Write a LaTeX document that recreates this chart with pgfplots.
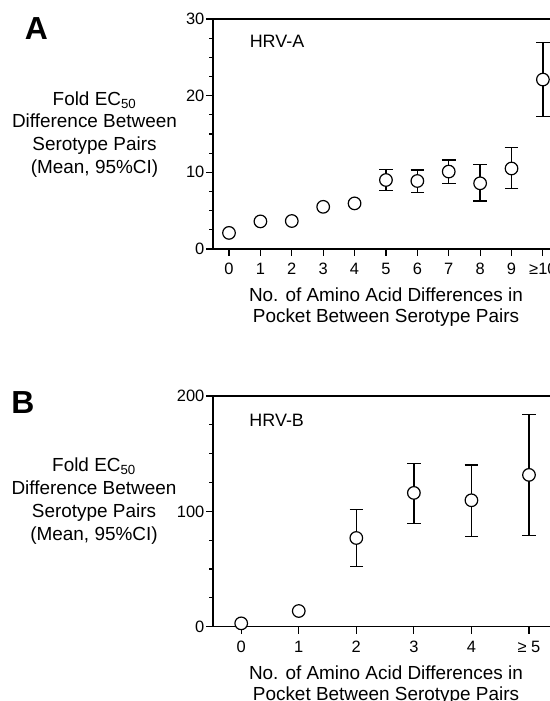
\documentclass[border=0pt]{standalone}
\usepackage{fontspec}
\setmainfont{Liberation Sans}
\usepackage{pgfplots}
\usepackage{pgfplotstable}
\pgfplotsset{compat=1.18}

% panel A: mean fold EC50 by number of differences
\pgfplotstableread{
x y
0 2.1
1 3.6
2 3.65
3 5.5
4 5.95
5 9.0
6 8.87
7 10.1
8 8.57
9 10.5
10 22.1
}\dataA

\pgfplotstableread{
x y
0 2.9
1 13.6
2 76.9
3 116
4 109.6
5 131.6
}\dataB

\pgfplotsset{
  panel/.style={
    scale only axis,
    width=339bp,
    anchor=south west,
    clip=false,
    axis line style={line width=1.2bp},
    tick align=outside,
    xtick pos=bottom,
    ytick pos=left,
    major tick length=7bp,
    minor tick length=4bp,
    tick style={line width=1.1bp,black},
    tick label style={font=\fontsize{16.5}{18}\selectfont},
    yticklabel style={inner xsep=1.5bp},
    xticklabel style={yshift=-4bp},
    /pgf/number format/assume math mode=true,
    minor y tick num=3,
  },
  circ/.style={only marks,mark=*,mark size=6.3bp,
    mark options={fill=white,draw=black,line width=1.2bp}},
  ebar/.style={black,only marks,mark=none,
    error bars/.cd,y dir=both,y explicit,
    error bar style={line width=1.3bp,black},
    error mark options={rotate=90,mark size=6.8bp,line width=1.3bp,black}},
}

\begin{document}
\begin{tikzpicture}
\useasboundingbox (0,0) rectangle (550bp,701bp);

\begin{axis}[panel,
  at={(213bp,452bp)},
  height=230bp,
  xmin=-0.51, xmax=10.29,
  ymin=0, ymax=30,
  xtick={0,1,2,3,4,5,6,7,8,9,10},
  xticklabels={0,1,2,3,4,5,6,7,8,9,{≥10}},
  ytick={0,10,20,30},
]
\addplot[ebar] coordinates {
  (5,9.0) += (0,1.4) -= (0,1.4)
  (6,8.87) += (0,1.43) -= (0,1.47)
  (7,10.1) += (0,1.5) -= (0,1.6)
  (8,8.57) += (0,2.43) -= (0,2.31)
  (9,10.5) += (0,2.7) -= (0,2.6)
  (10,22.1) += (0,4.8) -= (0,4.85)
};
\addplot[circ] table[x=x,y=y]{\dataA};
\end{axis}

\begin{axis}[panel,
  at={(213bp,74.3bp)},
  height=230.7bp,
  xmin=-0.49, xmax=5.40,
  ymin=0, ymax=200,
  xtick={0,1,2,3,4,5},
  xticklabels={0,1,2,3,4,{≥ 5}},
  ytick={0,100,200},
]
\addplot[ebar] coordinates {
  (2,76.9) += (0,24.6) -= (0,25)
  (3,116) += (0,25.7) -= (0,26.4)
  (4,109.6) += (0,30.7) -= (0,31.3)
  (5,131.6) += (0,52.4) -= (0,52.5)
};
\addplot[circ] table[x=x,y=y]{\dataB};
\end{axis}

% panel letters and text
\node[font=\fontsize{32}{32}\selectfont\bfseries] at (36.5bp,672bp) {A};
\node[font=\fontsize{32}{32}\selectfont\bfseries] at (23bp,298bp) {B};

\node[font=\fontsize{18}{18}\selectfont] at (277bp,659.3bp) {HRV-A};
\node[font=\fontsize{18}{18}\selectfont] at (276.7bp,281bp) {HRV-B};

\node[align=center,font=\fontsize{19}{23}\selectfont] at (94.5bp,566.5bp)
  {Fold EC\textsubscript{50}\\Difference Between\\Serotype Pairs\\(Mean, 95\%CI)};
\node[align=center,font=\fontsize{19}{23}\selectfont] at (94bp,200bp)
  {Fold EC\textsubscript{50}\\Difference Between\\Serotype Pairs\\(Mean, 95\%CI)};

\node[align=center,font=\fontsize{19}{20.5}\selectfont] at (386bp,394bp)
  {No. of Amino Acid Differences in\\Pocket Between Serotype Pairs};
\node[align=center,font=\fontsize{19}{20.5}\selectfont] at (386bp,16bp)
  {No. of Amino Acid Differences in\\Pocket Between Serotype Pairs};
\end{tikzpicture}
\end{document}
